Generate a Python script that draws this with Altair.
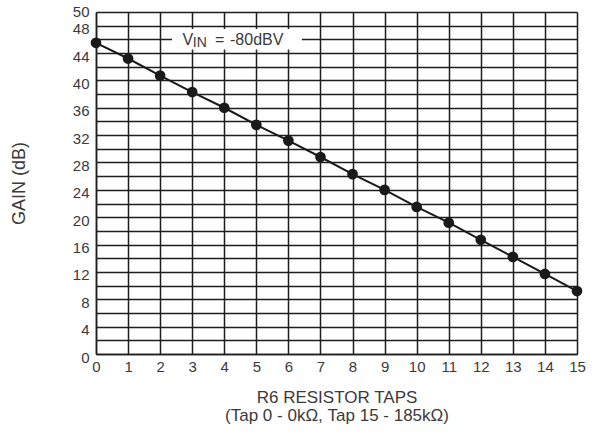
import altair as alt
import pandas as pd

taps = list(range(16))
gain = [45.5, 43.2, 40.7, 38.3, 36.0, 33.5, 31.2, 28.8, 26.3, 24.0, 21.5, 19.2, 16.7, 14.2, 11.7, 9.2]

x_ticks = list(range(16))
y_grid = list(range(0, 51, 2))

ann_box = pd.DataFrame({"tap": [2.37], "tap2": [6.42], "gain": [44.5], "gain2": [47.5]})
ann_text = pd.DataFrame({
    "tap": [2.70, 3.02, 3.71, 4.18],
    "gain": [45.86, 45.4, 45.86, 45.86],
    "t": ["V", "IN", "=", "-80dBV"],
    "s": [16, 14, 16, 16],
})

df = pd.DataFrame({"tap": taps, "gain": gain})

FONT = "Liberation Sans"
TXT = "#3a3a3a"
GRID = "#1e1e1e"
NB = "\u00a0"

xenc = alt.X(
    "tap:Q",
    scale=alt.Scale(domain=[0, 15], nice=False, zero=False),
    axis=alt.Axis(
        values=x_ticks, grid=True, gridColor=GRID, gridWidth=1.5, gridOpacity=1,
        ticks=False, domainColor=GRID, domainWidth=1.5, labelPadding=5,
        labelFont=FONT, labelFontSize=15, labelColor=TXT, labelFlush=False,
        labelOverlap=False,
        title=["R6 RESISTOR TAPS" + NB * 4, NB * 2 + "(Tap 0 - 0kΩ, Tap 15 - 185kΩ)"],
        titleFont=FONT, titleFontSize=17, titleFontWeight="normal", titleColor=TXT,
        titlePadding=15, titleLineHeight=18,
    ),
)
yenc = alt.Y(
    "gain:Q",
    scale=alt.Scale(domain=[0, 50], nice=False, zero=True),
    axis=alt.Axis(
        values=y_grid, grid=True, gridColor=GRID, gridWidth=1.5, gridOpacity=1,
        ticks=False, domainColor=GRID, domainWidth=1.5, labelPadding=7,
        labelExpr="(datum.value % 4 == 0 || datum.value == 50) ? datum.label : ''",
        labelFont=FONT, labelFontSize=15, labelColor=TXT, labelFlush=False,
        labelOverlap=False, labelBaseline="middle",
        labelOffset={"condition": {"test": "datum.value == 50", "value": -1}, "value": 3},
        title="GAIN (dB)", titleFont=FONT, titleFontSize=18, titleFontWeight="normal",
        titleColor=TXT, titlePadding=44,
    ),
)

line = alt.Chart(df).mark_line(color="#1a1a1a", strokeWidth=2).encode(x=xenc, y=yenc)
pts = alt.Chart(df).mark_circle(color="#1a1a1a", opacity=1, size=115).encode(x=xenc, y=yenc)

box = alt.Chart(ann_box).mark_rect(color="white", opacity=1).encode(
    x=xenc, x2="tap2:Q", y=yenc, y2="gain2:Q"
)
txt = alt.Chart(ann_text).mark_text(
    font=FONT, color=TXT, align="left", baseline="middle"
).encode(
    x=xenc, y=yenc, text="t:N", size=alt.Size("s:Q", scale=None, legend=None)
)

chart = alt.layer(line, box, pts, txt).properties(
    width=481, height=342,
    autosize=alt.AutoSizeParams(type="none"),
    padding={"left": 96, "top": 12, "right": 27, "bottom": 82},
).configure_view(stroke=GRID, strokeWidth=1.5).configure(background="white")

chart.save("out.html", embed_options={"renderer": "svg", "actions": False})
